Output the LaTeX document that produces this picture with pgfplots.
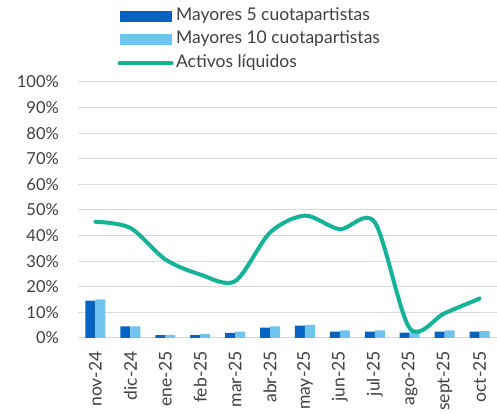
\documentclass[border=0pt]{standalone}
\usepackage{fontspec}
\setmainfont{Lato}
\usepackage{pgfplots}
\pgfplotsset{compat=1.18}
\definecolor{dblue}{HTML}{0563C1}
\definecolor{lblue}{HTML}{70C3EC}
\definecolor{teal1}{HTML}{14B397}
\definecolor{gridc}{HTML}{D9D9D9}
\definecolor{txt}{HTML}{404040}
\begin{document}
\begin{tikzpicture}[font=\fontsize{17.5}{20}\selectfont]
\begin{axis}[
  scale only axis,
  width=419pt, height=256pt,
  xmin=-0.5, xmax=11.5,
  ymin=0, ymax=100,
  xtick={0,...,11},
  xticklabels={nov-24,dic-24,ene-25,feb-25,mar-25,abr-25,may-25,jun-25,jul-25,ago-25,sept-25,oct-25},
  xticklabel style={rotate=90, anchor=east, inner sep=0pt, text=txt, font=\fontsize{17.5}{20}\selectfont},
  xticklabel shift=13pt,
  ytick={0,10,...,100},
  yticklabel={\pgfmathparse{int(\tick)}\pgfmathresult\%},
  yticklabel style={inner sep=0pt, text=txt, xshift=-19pt, font=\fontsize{16.5}{19}\selectfont},
  major tick length=0pt,
  axis line style={draw=none},
  ymajorgrids,
  grid style={gridc, line width=1pt},
  clip=false,
  legend cell align=left,
  legend style={draw=none, fill=none, at={(axis description cs:0.094,1.30)}, anchor=north west,
    inner sep=0pt, row sep=1.5pt, column sep=0pt, font=\fontsize{17.5}{20}\selectfont,
    nodes={inner xsep=2.5pt, inner ysep=3pt, text height=12pt, text depth=4pt, text=txt}},
]
\addplot[ybar, bar width=10pt, bar shift=-5pt, fill=dblue, draw=none,
  legend image code/.code={\fill[dblue] (0pt,-5.5pt) rectangle (52pt,5.5pt);}]
  coordinates {(0,14.6) (1,4.5) (2,1.1) (3,1.1) (4,2.0) (5,4.1) (6,4.8) (7,2.5) (8,2.5) (9,2.1) (10,2.5) (11,2.5)};
\addlegendentry{Mayores 5 cuotapartistas}
\addplot[ybar, bar width=10pt, bar shift=5pt, fill=lblue, draw=none,
  legend image code/.code={\fill[lblue] (0pt,-5.5pt) rectangle (52pt,5.5pt);}]
  coordinates {(0,15.1) (1,4.5) (2,1.2) (3,1.6) (4,2.5) (5,4.5) (6,5.1) (7,3.0) (8,3.0) (9,2.5) (10,3.0) (11,2.7)};
\addlegendentry{Mayores 10 cuotapartistas}
\addplot[smooth, teal1, line width=4pt, line cap=round, line join=round,
  legend image code/.code={\draw[teal1, line width=4pt, line cap=round] (0pt,0pt) -- (52pt,0pt);}]
  coordinates {(0,45.4) (1,43.0) (2,30.7) (3,24.8) (4,22.2) (5,41.2) (6,47.8) (7,42.5) (8,45.2) (9,3.8) (10,9.7) (11,15.4)};
\addlegendentry{Activos líquidos}
\end{axis}
\pgfresetboundingbox
\path (-78pt,-76pt) rectangle (419pt,338pt);
\end{tikzpicture}
\end{document}
